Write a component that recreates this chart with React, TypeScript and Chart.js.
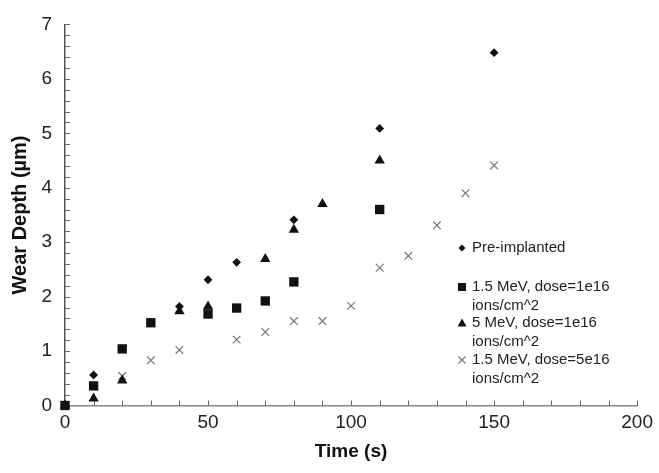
import React, { useEffect, useRef } from 'react';
import { Chart, registerables } from 'chart.js';
Chart.register(...registerables);

// Pre-implanted (diamonds)
const preTime = [0, 10, 40, 50, 60, 80, 110, 150];
const preDepth = [0, 0.56, 1.82, 2.31, 2.63, 3.41, 5.09, 6.48];
// 1.5 MeV, dose=1e16 (squares)
const sqTime = [0, 10, 20, 30, 50, 60, 70, 80, 110];
const sqDepth = [0, 0.36, 1.04, 1.52, 1.68, 1.79, 1.92, 2.27, 3.6];
// 5 MeV, dose=1e16 (triangles)
const triTime = [0, 10, 20, 40, 50, 70, 80, 90, 110];
const triDepth = [0, 0.13, 0.46, 1.73, 1.82, 2.69, 3.23, 3.7, 4.5];
// 1.5 MeV, dose=5e16 (crosses)
const crTime = [0, 20, 30, 40, 60, 70, 80, 90, 100, 110, 120, 130, 140, 150];
const crDepth = [0, 0.54, 0.83, 1.02, 1.21, 1.35, 1.55, 1.55, 1.83, 2.53, 2.75, 3.31, 3.9, 4.41];

const xTitle = 'Time (s)';
const yTitle = 'Wear Depth (µm)';
const legendLabels = [
  ['Pre-implanted'],
  ['1.5 MeV, dose=1e16', 'ions/cm^2'],
  ['5 MeV, dose=1e16', 'ions/cm^2'],
  ['1.5 MeV, dose=5e16', 'ions/cm^2'],
];

const FONT = "'Liberation Sans', Arial, sans-serif";

const toPts = (xs: number[], ys: number[]) => xs.map((x, i) => ({ x, y: ys[i] }));

const innerTicks = {
  id: 'innerTicks',
  beforeDatasetsDraw(chart: any) {
    const { ctx, chartArea, scales } = chart;
    const xs = scales.x;
    const ys = scales.y;
    ctx.save();
    ctx.strokeStyle = '#666';
    ctx.lineWidth = 1;
    for (let i = 0; i <= 35; i++) {
      const v = i * 0.2;
      const py = Math.round(ys.getPixelForValue(v)) + 0.5;
      ctx.beginPath();
      ctx.moveTo(chartArea.left, py);
      ctx.lineTo(chartArea.left + 5, py);
      ctx.stroke();
    }
    for (let i = 1; i <= 20; i++) {
      const px = Math.round(xs.getPixelForValue(i * 10)) + 0.5;
      ctx.beginPath();
      ctx.moveTo(px, chartArea.bottom);
      ctx.lineTo(px, chartArea.bottom - 5);
      ctx.stroke();
    }
    ctx.restore();
  },
};

function drawMarker(ctx: CanvasRenderingContext2D, kind: number, x: number, y: number) {
  ctx.save();
  ctx.fillStyle = '#111';
  ctx.strokeStyle = '#777';
  ctx.lineWidth = 1.2;
  ctx.beginPath();
  if (kind === 0) {
    const r = 3.5;
    ctx.moveTo(x - r, y);
    ctx.lineTo(x, y - r);
    ctx.lineTo(x + r, y);
    ctx.lineTo(x, y + r);
    ctx.closePath();
    ctx.fill();
  } else if (kind === 1) {
    ctx.rect(x - 4, y - 4, 8, 8);
    ctx.fill();
  } else if (kind === 2) {
    ctx.moveTo(x, y - 4.5);
    ctx.lineTo(x + 4.5, y + 3.5);
    ctx.lineTo(x - 4.5, y + 3.5);
    ctx.closePath();
    ctx.fill();
  } else {
    const r = 3.5;
    ctx.moveTo(x - r, y - r);
    ctx.lineTo(x + r, y + r);
    ctx.moveTo(x + r, y - r);
    ctx.lineTo(x - r, y + r);
    ctx.stroke();
  }
  ctx.restore();
}

const customLegend = {
  id: 'customLegend',
  afterDraw(chart: any) {
    const { ctx } = chart;
    const markerX = 462;
    const textX = 472;
    const rowY = [248, 287, 323, 360];
    const lineH = 19;
    ctx.save();
    ctx.font = `15px ${FONT}`;
    ctx.fillStyle = '#222';
    ctx.textBaseline = 'middle';
    ctx.textAlign = 'left';
    legendLabels.forEach((lines, i) => {
      drawMarker(ctx, i, markerX, rowY[i]);
      lines.forEach((t, j) => ctx.fillText(t, textX, rowY[i] + j * lineH));
    });
    ctx.restore();
  },
};

export default function App() {
  const ref = useRef<HTMLCanvasElement | null>(null);
  useEffect(() => {
    document.body.style.margin = '0';
    if (!ref.current) return;
    Chart.defaults.font.family = FONT;
    const chart = new Chart(ref.current, {
      type: 'scatter',
      data: {
        datasets: [
          {
            label: 'Pre-implanted',
            data: toPts(preTime, preDepth),
            pointStyle: 'rectRot',
            radius: 4.4,
            backgroundColor: '#111',
            borderColor: '#111',
            borderWidth: 0,
            clip: false,
          },
          {
            label: '1.5 MeV, dose=1e16 ions/cm^2',
            data: toPts(sqTime, sqDepth),
            pointStyle: 'rect',
            radius: 6.6,
            backgroundColor: '#111',
            borderColor: '#111',
            borderWidth: 0,
            clip: false,
          },
          {
            label: '5 MeV, dose=1e16 ions/cm^2',
            data: toPts(triTime, triDepth),
            pointStyle: 'triangle',
            radius: 6,
            backgroundColor: '#111',
            borderColor: '#111',
            borderWidth: 0,
            clip: false,
          },
          {
            label: '1.5 MeV, dose=5e16 ions/cm^2',
            data: toPts(crTime, crDepth),
            pointStyle: 'crossRot',
            radius: 5.4,
            backgroundColor: '#777',
            borderColor: '#777',
            borderWidth: 1.2,
            clip: false,
          },
        ] as any,
      },
      options: {
        animation: false,
        responsive: false,
        devicePixelRatio: 1,
        layout: { padding: { top: 15, right: 19, left: 0, bottom: 0 } },
        plugins: { legend: { display: false }, tooltip: { enabled: false } },
        scales: {
          x: {
            type: 'linear',
            min: 0,
            max: 200,
            ticks: { stepSize: 50, color: '#222', font: { size: 19 }, padding: 6 },
            grid: { display: false, drawTicks: false },
            border: { display: true, color: '#888', width: 1.5 },
            title: {
              display: true,
              text: xTitle,
              color: '#111',
              font: { size: 19, weight: 'bold' },
              padding: { top: 0, bottom: 10 },
            },
            afterFit: (s: any) => {
              s.height = 67.5;
            },
          },
          y: {
            type: 'linear',
            min: 0,
            max: 7,
            ticks: { stepSize: 1, color: '#222', font: { size: 19 }, padding: 13 },
            grid: { display: false, drawTicks: false },
            border: { display: true, color: '#555', width: 1.5 },
            title: {
              display: true,
              text: yTitle,
              color: '#111',
              font: { size: 20, weight: 'bold' },
              padding: { top: 8, bottom: 0 },
            },
            afterFit: (s: any) => {
              s.width = 65;
            },
          },
        },
      } as any,
      plugins: [innerTicks, customLegend],
    });
    return () => chart.destroy();
  }, []);
  return <canvas ref={ref} width={659} height={473} style={{ display: 'block' }} />;
}
